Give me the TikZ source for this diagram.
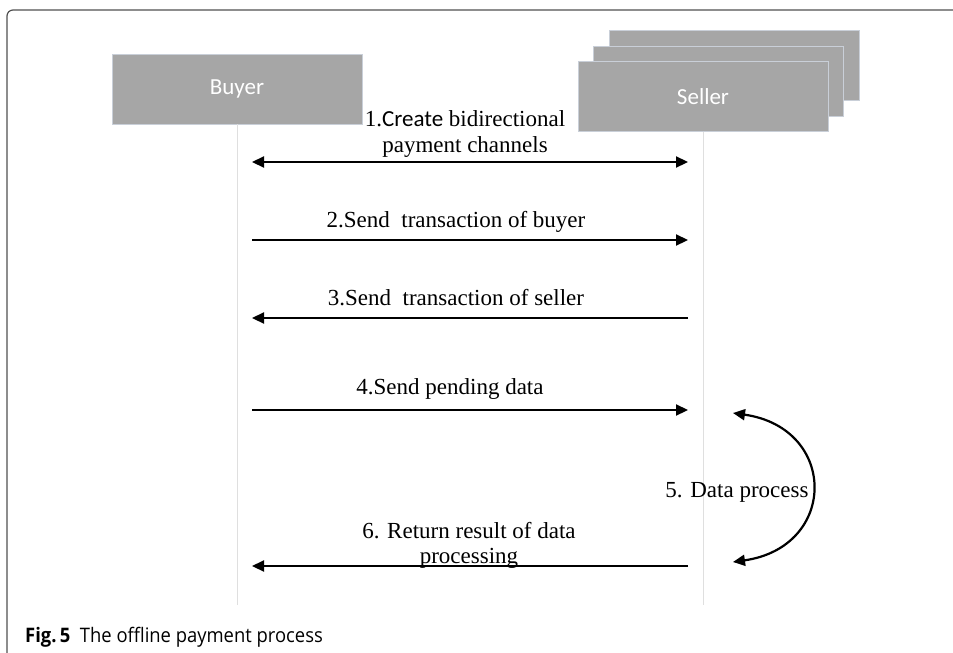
\documentclass[tikz,border=0pt]{standalone}
\usepackage{fontspec}
\setmainfont{Liberation Serif}
\newfontfamily\boxfont{Carlito}
\newfontfamily\capfont{Open Sans}[FakeStretch=0.92]
\usetikzlibrary{arrows.meta}
\definecolor{boxgray}{HTML}{A6A6A6}
\definecolor{boxedge}{HTML}{C9CFD8}
\definecolor{lifegray}{HTML}{DFDFDF}
\definecolor{framegray}{HTML}{505050}
\tikzset{
  actor/.style={fill=boxgray, draw=boxedge, line width=0.8pt, minimum width=250pt,
    minimum height=70pt, inner sep=0pt, text=white, font=\boxfont\fontsize{23}{26}\selectfont},
  lifeline/.style={draw=lifegray, line width=1pt},
  msg/.style={line width=2.2pt, -{Triangle[length=12pt,width=11pt]}},
  bimsg/.style={line width=2.2pt, {Triangle[length=12pt,width=11pt]}-{Triangle[length=12pt,width=11pt]}},
  msglabel/.style={font=\fontsize{23}{26}\selectfont, align=center, inner sep=0pt, anchor=base},
}
\begin{document}
\begin{tikzpicture}[x=1pt, y=-1pt]
\useasboundingbox (0,0) rectangle (953,653);
% outer frame (open to the right and bottom)
\draw[framegray, line width=1.2pt, rounded corners=6pt] (7,653) -- (7,10) -- (953,10);

% actors
\node[actor] (seller3) at (734,65.5) {};
\node[actor] (seller2) at (718.5,81) {};
\node[actor] (seller) at (703,96.5) {Seller};
\node[actor] (buyer) at (237,89) {Buyer};

% lifelines
\coordinate (bend) at (237,605);
\coordinate (send) at (703,605);
\draw[lifeline] (buyer.south) -- (bend);
\draw[lifeline] (seller.south) -- (send);

% message end points
\coordinate (b1) at (252,162); \coordinate (s1) at (688,162);
\coordinate (b2) at (252,240); \coordinate (s2) at (688,240);
\coordinate (b3) at (252,318); \coordinate (s3) at (688,318);
\coordinate (b4) at (252,410); \coordinate (s4) at (688,410);
\coordinate (b6) at (252,566); \coordinate (s6) at (688,566);
\coordinate (p1) at (733,413); \coordinate (p2) at (733,562);

% messages (base anchor of a two-line label is its last line)
\draw[bimsg] (b1) -- (s1);
\node[msglabel] (l1) at (465,152) {1.{\boxfont Create} bidirectional\\payment channels};

\draw[msg] (b2) -- (s2);
\node[msglabel] (l2) at (456,227) {2.Send\ \ transaction of buyer};

\draw[msg] (s3) -- (b3);
\node[msglabel] (l3) at (456,305) {3.Send\ \ transaction of seller};

\draw[msg] (b4) -- (s4);
\node[msglabel] (l4) at (450,394) {4.Send pending data};

\draw[bimsg] (p1) .. controls (838,428) and (838,547) .. (p2);
\node[msglabel] (l5) at (737,497) {5. Data process};

\draw[msg] (s6) -- (b6);
\node[msglabel, font=\fontsize{23}{25}\selectfont] (l6) at (469,563) {6. Return result of data\\processing};

% caption
\node[anchor=base west, inner sep=0pt, font=\capfont\fontsize{20}{24}\selectfont] (cap) at (25,642)
  {\textbf{Fig.\,5}\ \ The offline payment process};
\end{tikzpicture}
\end{document}
